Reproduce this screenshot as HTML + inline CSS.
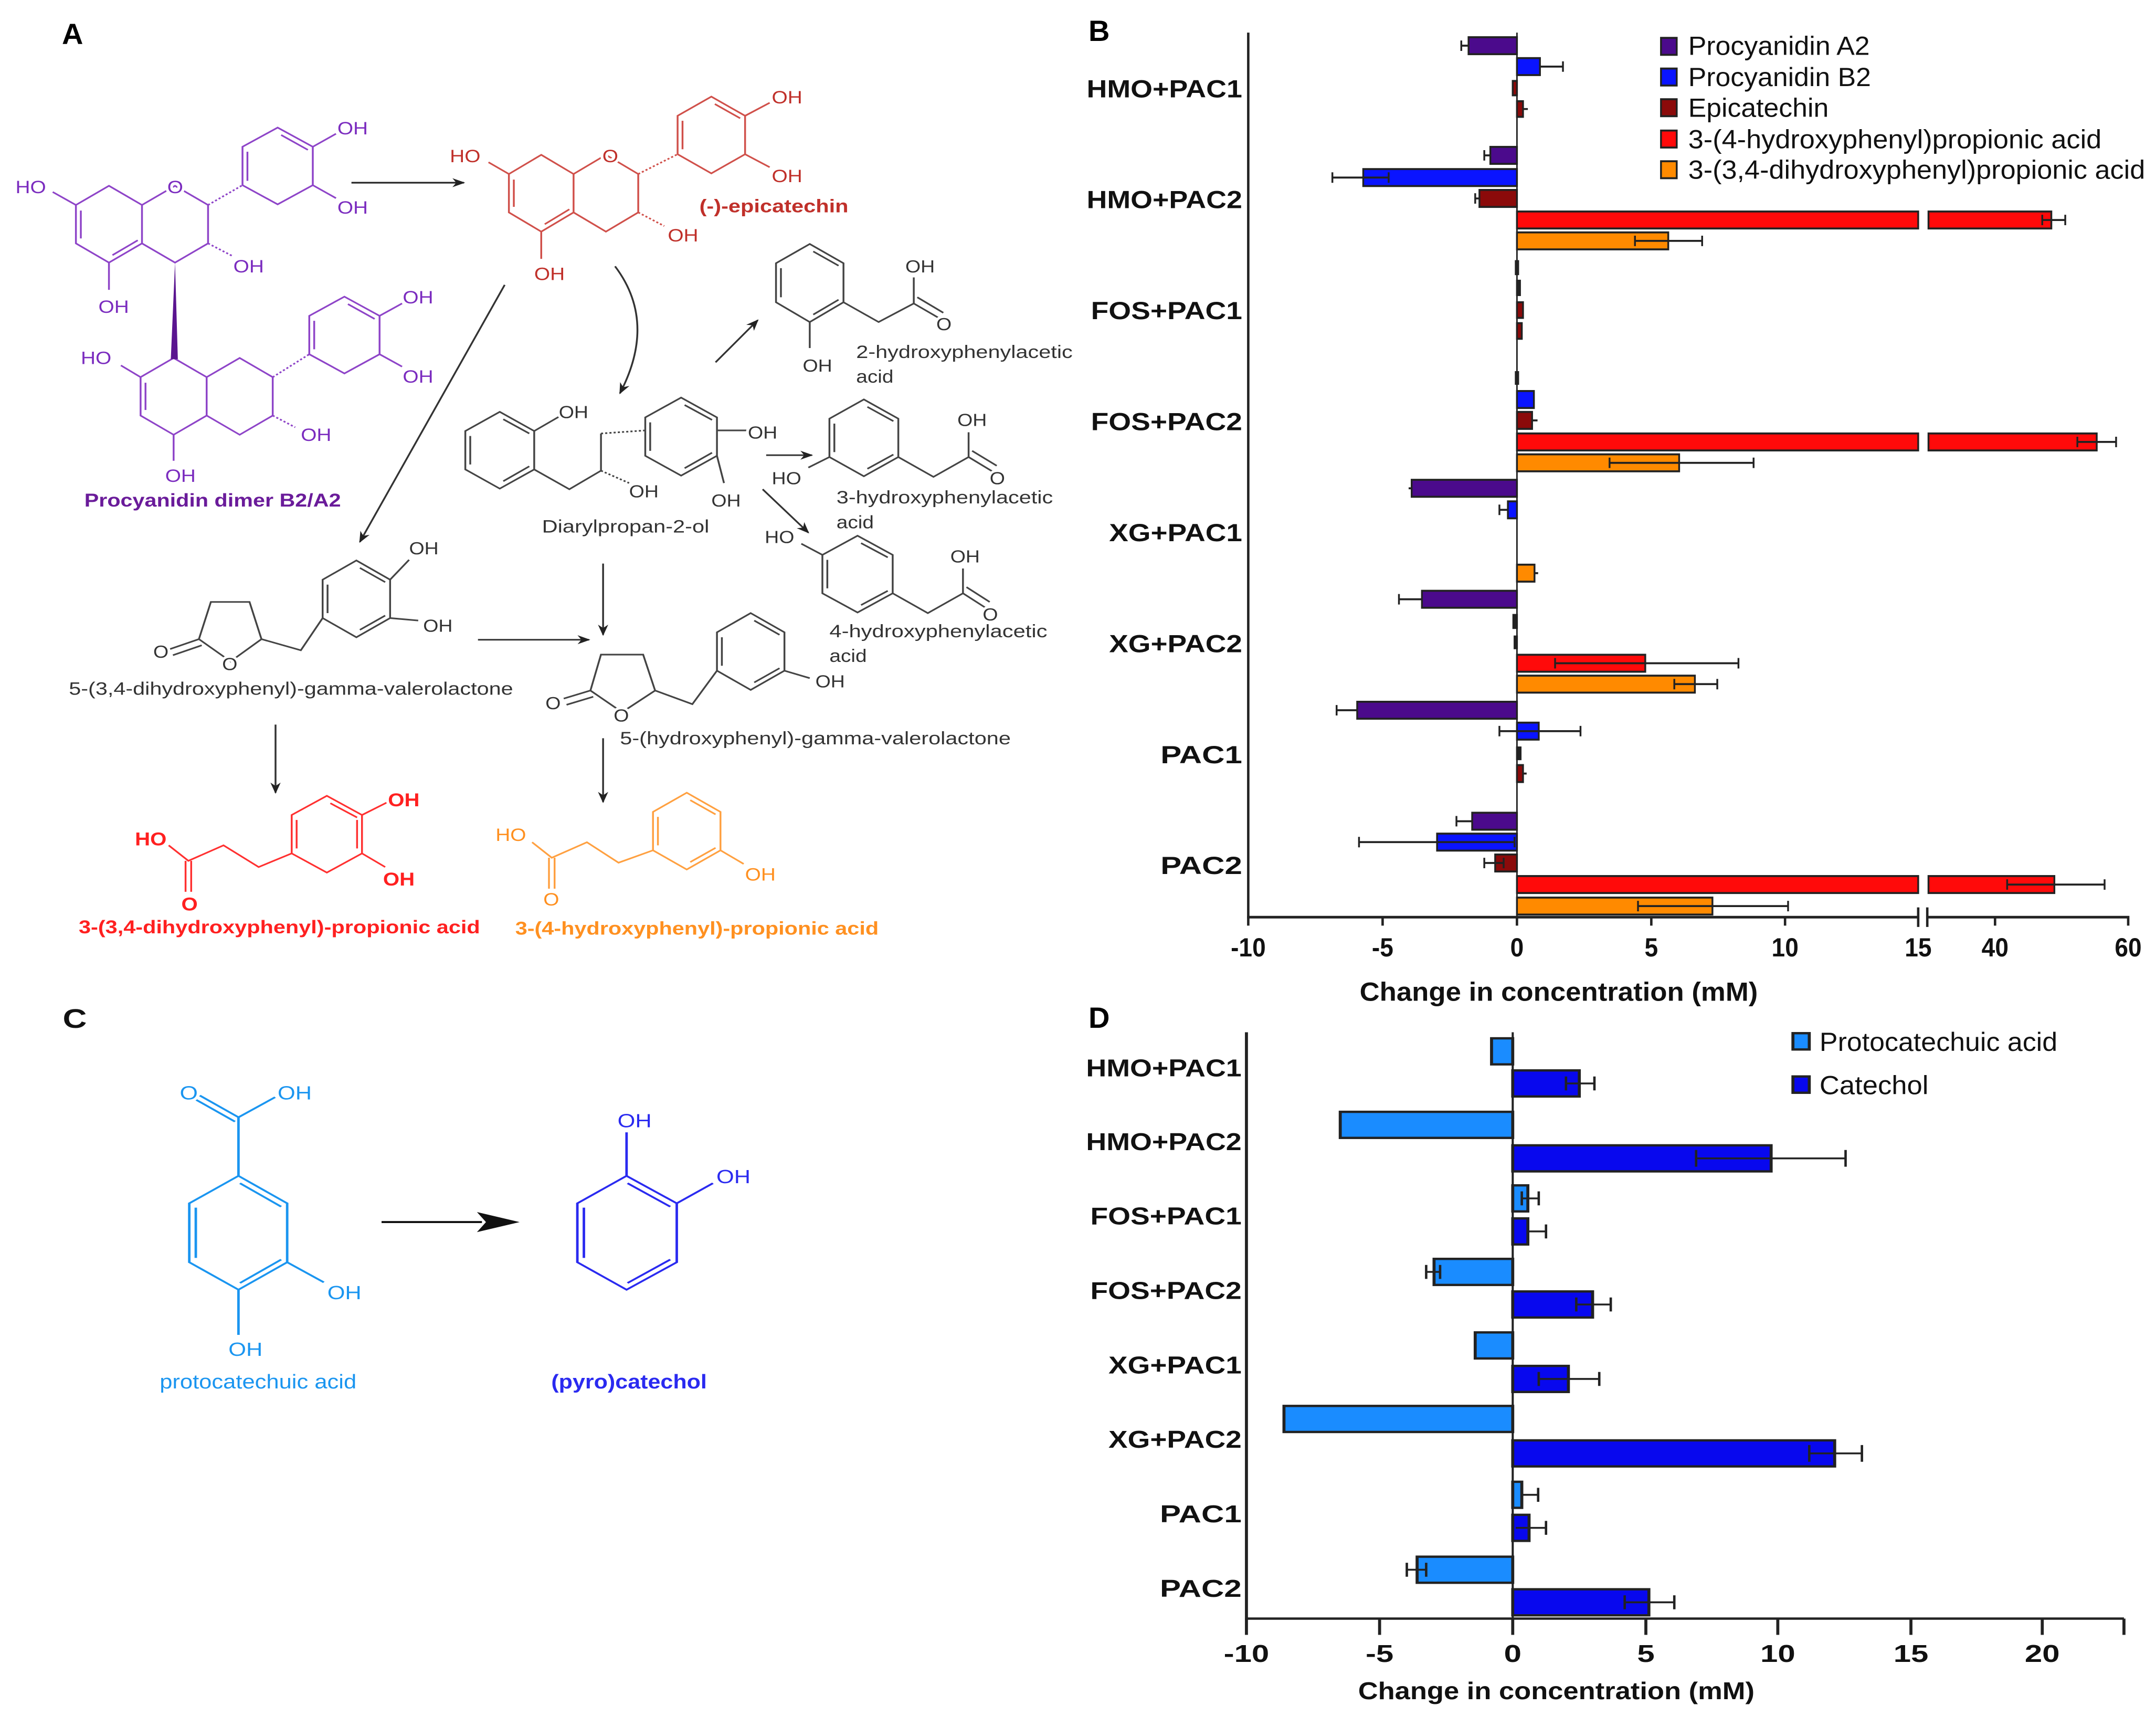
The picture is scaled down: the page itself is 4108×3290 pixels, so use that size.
<!DOCTYPE html>
<html><head><meta charset="utf-8"><style>
html,body{margin:0;padding:0;background:#fff}
svg{display:block}
text{font-family:"Liberation Sans",Arial,sans-serif}
.at{paint-order:stroke;stroke:#fff;stroke-width:8px;stroke-linejoin:round}
</style></head><body>
<svg xmlns="http://www.w3.org/2000/svg" width="4108" height="3290" viewBox="0 0 4108 3290">
<defs>
<marker id="ah" viewBox="0 0 10 10" refX="9" refY="5" markerWidth="7" markerHeight="7" orient="auto"><path d="M0,1 L10,5 L0,9 L3,5z" fill="#222"/></marker>
</defs>
<rect width="4108" height="3290" fill="#fff"/>
<text x="118" y="84" font-size="56" font-weight="bold">A</text>
<text x="2074" y="78" font-size="56" font-weight="bold">B</text>
<text x="2074" y="1958" font-size="56" font-weight="bold">D</text>

<!-- PANEL A (zoom2 coords) -->
<g transform="scale(1.3393,1.1798)" fill="none" stroke-width="2.6">
<g stroke="#8e44c8">
<polygon points="155,300 202,331 202,393 155,424 108,393 108,331"/>
<polyline points="202,331 249,300 296,331 296,393 249,424 202,393"/>
<polygon points="395,206 445,237 445,299 395,330 345,299 345,237"/>
<line x1="115" y1="340" x2="115" y2="385"/><line x1="160" y1="412" x2="196" y2="388"/><line x1="352" y1="245" x2="352" y2="292"/><line x1="400" y1="218" x2="438" y2="242"/>
<line x1="108" y1="331" x2="75" y2="310"/><line x1="155" y1="424" x2="155" y2="468"/>
<line x1="296" y1="331" x2="345" y2="299" stroke-dasharray="3 3"/><line x1="296" y1="393" x2="330" y2="413" stroke-dasharray="3 3"/>
<line x1="445" y1="237" x2="478" y2="216"/><line x1="445" y1="299" x2="478" y2="320"/>
<polygon points="247,578 294,609 294,671 247,702 200,671 200,609"/>
<polyline points="294,609 341,578 388,609 388,671 341,702 294,671"/>
<polygon points="490,479 540,510 540,572 490,603 440,572 440,510"/>
<line x1="207" y1="618" x2="207" y2="662"/><line x1="447" y1="518" x2="447" y2="564"/><line x1="495" y1="491" x2="533" y2="515"/>
<line x1="200" y1="609" x2="172" y2="590"/><line x1="247" y1="702" x2="247" y2="744"/>
<line x1="388" y1="609" x2="440" y2="572" stroke-dasharray="3 3"/><line x1="388" y1="671" x2="420" y2="690" stroke-dasharray="3 3"/>
<line x1="540" y1="510" x2="572" y2="490"/><line x1="540" y1="572" x2="572" y2="592"/>
</g>
<polygon points="249,424 243,580 253,580" fill="#5b1590"/>
<g fill="#7b2cbf" font-size="29" class="at">
<text x="22" y="312">HO</text><text x="238" y="312">O</text><text x="480" y="217">OH</text><text x="480" y="345">OH</text><text x="332" y="440">OH</text><text x="140" y="505">OH</text>
<text x="115" y="588">HO</text><text x="573" y="490">OH</text><text x="573" y="618">OH</text><text x="428" y="712">OH</text><text x="235" y="778">OH</text>
</g>
<text x="120" y="818" font-size="30" font-weight="bold" fill="#6a1b9a" textLength="365" lengthAdjust="spacingAndGlyphs">Procyanidin dimer B2/A2</text>
<line x1="500" y1="295" x2="660" y2="295" stroke="#222" marker-end="url(#ah)"/>
<g stroke="#d0504a">
<polygon points="770,250 816,281 816,343 770,374 724,343 724,281"/>
<polyline points="816,281 862,250 908,281 908,343 862,374 816,343"/>
<polygon points="1012,156 1060,187 1060,249 1012,280 964,249 964,187"/>
<line x1="731" y1="290" x2="731" y2="334"/><line x1="775" y1="362" x2="810" y2="338"/><line x1="971" y1="195" x2="971" y2="241"/><line x1="1017" y1="168" x2="1053" y2="191"/>
<line x1="724" y1="281" x2="695" y2="262"/><line x1="770" y1="374" x2="770" y2="418"/>
<line x1="908" y1="281" x2="964" y2="249" stroke-dasharray="3 3"/><line x1="908" y1="343" x2="945" y2="365" stroke-dasharray="3 3"/>
<line x1="1060" y1="187" x2="1095" y2="166"/><line x1="1060" y1="249" x2="1095" y2="270"/>
</g>
<g fill="#c0302a" font-size="29" class="at">
<text x="640" y="262">HO</text><text x="857" y="262">O</text><text x="1098" y="167">OH</text><text x="1098" y="294">OH</text><text x="950" y="390">OH</text><text x="760" y="452">OH</text>
</g>
<text x="995" y="343" font-size="30" font-weight="bold" fill="#c0302a" textLength="212" lengthAdjust="spacingAndGlyphs">(-)-epicatechin</text>
<g stroke="#333" marker-end="url(#ah)">
<path d="M875,430 Q935,520 882,635"/>
<line x1="718" y1="460" x2="512" y2="875"/>
<line x1="1018" y1="585" x2="1078" y2="517"/>
<line x1="1090" y1="735" x2="1155" y2="735"/>
<line x1="1085" y1="790" x2="1150" y2="860"/>
<line x1="858" y1="910" x2="858" y2="1025"/>
<line x1="680" y1="1033" x2="838" y2="1033"/>
<line x1="392" y1="1170" x2="392" y2="1280"/>
<line x1="858" y1="1192" x2="858" y2="1295"/>
</g>
<g stroke="#444">
<polygon points="711,665 760,696 760,758 711,789 662,758 662,696"/>
<line x1="669" y1="704" x2="669" y2="750"/><line x1="716" y1="777" x2="753" y2="753"/><line x1="716" y1="677" x2="753" y2="700"/>
<line x1="760" y1="696" x2="795" y2="673"/>
<polyline points="760,758 810,790 855,760 855,700"/>
<line x1="855" y1="700" x2="918" y2="695" stroke-dasharray="3 3"/><line x1="855" y1="760" x2="895" y2="780" stroke-dasharray="3 3"/>
<polygon points="969,642 1020,674 1020,736 969,768 918,736 918,674"/>
<line x1="925" y1="682" x2="925" y2="728"/><line x1="974" y1="654" x2="1013" y2="678"/><line x1="974" y1="756" x2="1013" y2="731"/>
<line x1="1020" y1="695" x2="1062" y2="695"/><line x1="1020" y1="736" x2="1030" y2="780"/>
<polygon points="1152,394 1200,425 1200,488 1152,520 1104,488 1104,425"/>
<line x1="1111" y1="433" x2="1111" y2="480"/><line x1="1157" y1="406" x2="1193" y2="429"/><line x1="1157" y1="508" x2="1193" y2="484"/>
<line x1="1152" y1="520" x2="1152" y2="562"/><polyline points="1200,488 1250,520 1300,490 1300,448"/>
<line x1="1300" y1="490" x2="1338" y2="515"/><line x1="1305" y1="480" x2="1342" y2="505"/>
<polygon points="1229,645 1278,676 1278,738 1229,769 1180,738 1180,676"/>
<line x1="1187" y1="684" x2="1187" y2="730"/><line x1="1234" y1="657" x2="1271" y2="680"/><line x1="1234" y1="757" x2="1271" y2="734"/>
<line x1="1180" y1="738" x2="1150" y2="755"/><polyline points="1278,738 1328,770 1378,738 1378,698"/>
<line x1="1378" y1="738" x2="1413" y2="762"/><line x1="1383" y1="728" x2="1418" y2="752"/>
<polygon points="1220,865 1270,896 1270,958 1220,989 1170,958 1170,896"/>
<line x1="1177" y1="904" x2="1177" y2="950"/><line x1="1225" y1="877" x2="1263" y2="900"/><line x1="1225" y1="977" x2="1263" y2="954"/>
<line x1="1170" y1="896" x2="1140" y2="878"/><polyline points="1270,958 1320,990 1370,958 1370,918"/>
<line x1="1370" y1="958" x2="1403" y2="982"/><line x1="1375" y1="948" x2="1408" y2="972"/>
<polyline points="283,1032 300,972 355,972 372,1032 328,1068 283,1032"/>
<line x1="283" y1="1032" x2="242" y2="1048"/><line x1="287" y1="1042" x2="246" y2="1058"/>
<polyline points="372,1032 428,1050 459,998"/>
<polygon points="507,905 555,936 555,998 507,1029 459,998 459,936"/>
<line x1="466" y1="944" x2="466" y2="990"/><line x1="512" y1="917" x2="548" y2="940"/><line x1="512" y1="1017" x2="548" y2="994"/>
<line x1="555" y1="936" x2="582" y2="904"/><line x1="555" y1="998" x2="595" y2="1002"/>
<polyline points="840,1115 855,1057 915,1057 932,1115 885,1150 840,1115"/>
<line x1="840" y1="1115" x2="802" y2="1128"/><line x1="844" y1="1125" x2="806" y2="1138"/>
<polyline points="932,1115 985,1137 1020,1083"/>
<polygon points="1068,990 1116,1021 1116,1083 1068,1114 1020,1083 1020,1021"/>
<line x1="1027" y1="1029" x2="1027" y2="1075"/><line x1="1073" y1="1002" x2="1109" y2="1025"/><line x1="1073" y1="1102" x2="1109" y2="1079"/>
<line x1="1116" y1="1083" x2="1152" y2="1095"/>
</g>
<g fill="#333" font-size="28" class="at">
<text x="795" y="675">OH</text><text x="895" y="803">OH</text><text x="1064" y="708">OH</text><text x="1012" y="818">OH</text>
<text x="1142" y="600">OH</text><text x="1288" y="440">OH</text><text x="1332" y="533">O</text>
<text x="1098" y="782">HO</text><text x="1362" y="688">OH</text><text x="1408" y="782">O</text>
<text x="1088" y="877">HO</text><text x="1352" y="908">OH</text><text x="1398" y="1002">O</text>
<text x="218" y="1062">O</text><text x="316" y="1082">O</text><text x="582" y="895">OH</text><text x="602" y="1020">OH</text>
<text x="776" y="1145">O</text><text x="873" y="1165">O</text><text x="1160" y="1110">OH</text>
</g>
<g fill="#333" font-size="29">
<text x="890" y="860" text-anchor="middle" textLength="238" lengthAdjust="spacingAndGlyphs">Diarylpropan-2-ol</text>
<text x="1218" y="578" textLength="308" lengthAdjust="spacingAndGlyphs">2-hydroxyphenylacetic</text><text x="1218" y="618">acid</text>
<text x="1190" y="813" textLength="308" lengthAdjust="spacingAndGlyphs">3-hydroxyphenylacetic</text><text x="1190" y="853">acid</text>
<text x="1180" y="1029" textLength="310" lengthAdjust="spacingAndGlyphs">4-hydroxyphenylacetic</text><text x="1180" y="1069">acid</text>
<text x="98" y="1122" textLength="632" lengthAdjust="spacingAndGlyphs">5-(3,4-dihydroxyphenyl)-gamma-valerolactone</text>
<text x="882" y="1202" textLength="556" lengthAdjust="spacingAndGlyphs">5-(hydroxyphenyl)-gamma-valerolactone</text>
</g>
<g stroke="#ff3030">
<polygon points="465,1285 515,1316 515,1378 465,1409 415,1378 415,1316"/>
<line x1="422" y1="1324" x2="422" y2="1370"/><line x1="470" y1="1297" x2="508" y2="1320"/><line x1="508" y1="1324" x2="508" y2="1370"/>
<polyline points="240,1365 268,1390 318,1365 368,1400 415,1378"/>
<line x1="264" y1="1390" x2="264" y2="1440"/><line x1="272" y1="1390" x2="272" y2="1440"/>
<line x1="515" y1="1316" x2="550" y2="1296"/><line x1="515" y1="1378" x2="548" y2="1400"/>
</g>
<g fill="#ff2020" font-size="30" font-weight="bold" class="at">
<text x="192" y="1365">HO</text><text x="258" y="1470">O</text><text x="552" y="1302">OH</text><text x="545" y="1430">OH</text>
</g>
<text x="112" y="1507" font-size="30" font-weight="bold" fill="#ff2020" textLength="571" lengthAdjust="spacingAndGlyphs">3-(3,4-dihydroxyphenyl)-propionic acid</text>
<g stroke="#ffa040">
<polygon points="977,1280 1025,1311 1025,1373 977,1404 929,1373 929,1311"/>
<line x1="936" y1="1319" x2="936" y2="1365"/><line x1="982" y1="1292" x2="1018" y2="1315"/><line x1="982" y1="1392" x2="1018" y2="1369"/>
<polyline points="757,1360 785,1385 835,1360 880,1393 929,1373"/>
<line x1="781" y1="1385" x2="781" y2="1435"/><line x1="789" y1="1385" x2="789" y2="1435"/>
<line x1="1025" y1="1373" x2="1058" y2="1395"/>
</g>
<g fill="#ff9020" font-size="29" class="at">
<text x="705" y="1358">HO</text><text x="773" y="1462">O</text><text x="1060" y="1422">OH</text>
</g>
<text x="733" y="1509" font-size="30" font-weight="bold" fill="#ff9020" textLength="517" lengthAdjust="spacingAndGlyphs">3-(4-hydroxyphenyl)-propionic acid</text>
</g>

<!-- PANEL C (zoom4 coords) -->
<g transform="translate(0,1800) scale(0.9566,0.6378)" fill="none">
<text x="125" y="248" font-size="80" font-weight="bold" fill="#111" textLength="48" lengthAdjust="spacingAndGlyphs">C</text>
<g stroke="#1a95f0" stroke-width="5">
<polygon points="475,690 572,772 572,948 475,1030 377,948 377,772"/>
<line x1="390" y1="785" x2="390" y2="935"/><line x1="478" y1="712" x2="560" y2="782"/><line x1="478" y1="1010" x2="560" y2="940"/>
<line x1="475" y1="690" x2="475" y2="515"/><line x1="475" y1="515" x2="548" y2="455"/>
<line x1="475" y1="515" x2="398" y2="450"/><line x1="468" y1="528" x2="391" y2="463"/>
<line x1="475" y1="1030" x2="475" y2="1165"/><line x1="572" y1="948" x2="645" y2="1008"/>
</g>
<g fill="#1a95f0" font-size="56">
<text x="358" y="462" textLength="36" lengthAdjust="spacingAndGlyphs">O</text><text x="553" y="462" textLength="68" lengthAdjust="spacingAndGlyphs">OH</text><text x="652" y="1058" textLength="68" lengthAdjust="spacingAndGlyphs">OH</text><text x="455" y="1228" textLength="68" lengthAdjust="spacingAndGlyphs">OH</text>
<text x="318" y="1325" font-size="60" textLength="392" lengthAdjust="spacingAndGlyphs">protocatechuic acid</text>
</g>
<line x1="760" y1="828" x2="960" y2="828" stroke="#111" stroke-width="6"/>
<polygon points="950,798 1035,828 950,858 968,828" fill="#111"/>
<g stroke="#2a2af0" stroke-width="5">
<polygon points="1248,690 1348,772 1348,948 1248,1030 1150,948 1150,772"/>
<line x1="1163" y1="785" x2="1163" y2="935"/><line x1="1250" y1="712" x2="1335" y2="782"/><line x1="1250" y1="1010" x2="1335" y2="940"/>
<line x1="1248" y1="690" x2="1248" y2="560"/><line x1="1348" y1="772" x2="1420" y2="712"/>
</g>
<g fill="#2a2af0" font-size="56">
<text x="1230" y="545" textLength="68" lengthAdjust="spacingAndGlyphs">OH</text><text x="1427" y="712" textLength="68" lengthAdjust="spacingAndGlyphs">OH</text>
<text x="1098" y="1325" font-size="60" font-weight="bold" textLength="310" lengthAdjust="spacingAndGlyphs">(pyro)catechol</text>
</g>
</g>

<!-- PANEL B (zoom1 coords) -->
<g transform="translate(2300,0) scale(1.1531,1.2436)">
<g stroke="#222" stroke-width="3">
<rect x="432" y="57" width="80" height="26" fill="#4b0a8c"/><rect x="512" y="89" width="38" height="26" fill="#0a14ff"/>
<rect x="505" y="124" width="7" height="22" fill="#8b0a0a"/><rect x="512" y="155" width="10" height="24" fill="#8b0a0a"/>
<rect x="468" y="225" width="44" height="26" fill="#4b0a8c"/><rect x="258" y="259" width="254" height="26" fill="#0a14ff"/>
<rect x="450" y="291" width="62" height="26" fill="#8b0a0a"/>
<rect x="512" y="324" width="663" height="26" fill="#ff0a0a"/><rect x="1192" y="324" width="203" height="26" fill="#ff0a0a"/>
<rect x="512" y="356" width="250" height="26" fill="#ff8a00"/>
<rect x="510" y="400" width="4" height="20" fill="#222"/><rect x="512" y="430" width="5" height="22" fill="#222"/>
<rect x="512" y="463" width="10" height="24" fill="#8b0a0a"/><rect x="512" y="495" width="8" height="24" fill="#8b0a0a"/>
<rect x="510" y="570" width="4" height="18" fill="#222"/><rect x="512" y="599" width="28" height="26" fill="#0a14ff"/>
<rect x="512" y="631" width="25" height="26" fill="#8b0a0a"/>
<rect x="512" y="664" width="663" height="26" fill="#ff0a0a"/><rect x="1192" y="664" width="278" height="26" fill="#ff0a0a"/>
<rect x="512" y="696" width="268" height="26" fill="#ff8a00"/>
<rect x="338" y="735" width="174" height="26" fill="#4b0a8c"/><rect x="497" y="768" width="15" height="26" fill="#0a14ff"/>
<rect x="512" y="865" width="29" height="26" fill="#ff8a00"/>
<rect x="355" y="905" width="157" height="26" fill="#4b0a8c"/><rect x="506" y="942" width="6" height="20" fill="#222"/><rect x="508" y="975" width="4" height="18" fill="#222"/>
<rect x="512" y="1003" width="212" height="26" fill="#ff0a0a"/><rect x="512" y="1035" width="294" height="26" fill="#ff8a00"/>
<rect x="248" y="1075" width="264" height="26" fill="#4b0a8c"/><rect x="512" y="1107" width="36" height="26" fill="#0a14ff"/>
<rect x="512" y="1145" width="6" height="18" fill="#222"/><rect x="512" y="1172" width="10" height="26" fill="#8b0a0a"/>
<rect x="438" y="1245" width="74" height="26" fill="#4b0a8c"/><rect x="380" y="1277" width="132" height="26" fill="#0a14ff"/>
<rect x="476" y="1309" width="36" height="26" fill="#8b0a0a"/>
<rect x="512" y="1342" width="663" height="26" fill="#ff0a0a"/><rect x="1192" y="1342" width="208" height="26" fill="#ff0a0a"/>
<rect x="512" y="1375" width="323" height="26" fill="#ff8a00"/>
</g>
<g stroke="#222" stroke-width="3" fill="none">
<path d="M432,70H420M420,62V78 M550,102H588M588,94V110 M522,167H530
M468,238H458M458,230V246 M300,272H207M207,264V280M300,264V280 M450,304H443M443,296V312
M1380,337H1418M1418,329V345M1380,329V345 M707,369H818M818,361V377M707,361V377
M537,644H546 M1438,677H1502M1502,669V685M1438,669V685 M665,709H903M903,701V717M665,701V717
M338,748H333 M497,781H483M483,773V789 M541,878H547
M355,918H317M317,910V926 M575,1016H878M878,1008V1024M575,1008V1024 M772,1048H843M843,1040V1056M772,1040V1056
M248,1088H214M214,1080V1096 M483,1120H617M617,1112V1128M483,1112V1128 M522,1185H528
M438,1258H412M412,1250V1266 M508,1290H251M251,1282V1298M508,1282V1298 M490,1322H458M458,1314V1330M490,1314V1330
M1322,1355H1483M1483,1347V1363M1322,1347V1363 M712,1388H960M960,1380V1396M712,1380V1396"/>
</g>
<g stroke="#222" stroke-width="4" fill="none">
<line x1="68" y1="50" x2="68" y2="1407"/>
<line x1="512" y1="50" x2="512" y2="1405" stroke-width="2.5"/>
<path d="M66,1405H1175 M1190,1405H1524 M1175,1390V1420 M1190,1390V1420 M68,1405V1418 M290,1405V1418 M512,1405V1418 M734,1405V1418 M955,1405V1418 M1302,1405V1418 M1522,1405V1418"/>
</g>
<g font-size="40" font-weight="bold" fill="#111" text-anchor="middle">
<text x="68" y="1465">-10</text><text x="290" y="1465">-5</text><text x="512" y="1465">0</text><text x="734" y="1465">5</text><text x="955" y="1465">10</text><text x="1175" y="1465">15</text><text x="1302" y="1465">40</text><text x="1522" y="1465">60</text>
<text x="581" y="1533" textLength="658" lengthAdjust="spacingAndGlyphs">Change in concentration (mM)</text>
</g>
<g font-size="38" font-weight="bold" fill="#111" text-anchor="end">
<text x="58" y="149" textLength="257" lengthAdjust="spacingAndGlyphs">HMO+PAC1</text>
<text x="58" y="319" textLength="257" lengthAdjust="spacingAndGlyphs">HMO+PAC2</text>
<text x="58" y="489" textLength="250" lengthAdjust="spacingAndGlyphs">FOS+PAC1</text>
<text x="58" y="659" textLength="250" lengthAdjust="spacingAndGlyphs">FOS+PAC2</text>
<text x="58" y="829" textLength="220" lengthAdjust="spacingAndGlyphs">XG+PAC1</text>
<text x="58" y="999" textLength="220" lengthAdjust="spacingAndGlyphs">XG+PAC2</text>
<text x="58" y="1169" textLength="135" lengthAdjust="spacingAndGlyphs">PAC1</text>
<text x="58" y="1339" textLength="135" lengthAdjust="spacingAndGlyphs">PAC2</text>
</g>
<g stroke="#222" stroke-width="3">
<rect x="750" y="58" width="26" height="26" fill="#4b0a8c"/><rect x="750" y="105" width="26" height="26" fill="#0a14ff"/>
<rect x="750" y="152" width="26" height="26" fill="#8b0a0a"/><rect x="750" y="200" width="26" height="26" fill="#ff0a0a"/><rect x="750" y="247" width="26" height="26" fill="#ff8a00"/>
</g>
<g font-size="40" fill="#111">
<text x="795" y="84" textLength="300" lengthAdjust="spacingAndGlyphs">Procyanidin A2</text>
<text x="795" y="132" textLength="302" lengthAdjust="spacingAndGlyphs">Procyanidin B2</text>
<text x="795" y="179" textLength="232" lengthAdjust="spacingAndGlyphs">Epicatechin</text>
<text x="795" y="227" textLength="683" lengthAdjust="spacingAndGlyphs">3-(4-hydroxyphenyl)propionic acid</text>
<text x="795" y="274" textLength="755" lengthAdjust="spacingAndGlyphs">3-(3,4-dihydroxyphenyl)propionic acid</text>
</g>
</g>

<!-- PANEL D (zoom3 coords) -->
<g transform="translate(2300,1900) scale(1.1531,0.8865)">
<g stroke="#222" stroke-width="5">
<rect x="470" y="88" width="35" height="56" fill="#1a8cff"/><rect x="505" y="157" width="110" height="56" fill="#0808ee"/>
<rect x="220" y="246" width="285" height="56" fill="#1a8cff"/><rect x="505" y="318" width="427" height="56" fill="#0808ee"/>
<rect x="505" y="404" width="25" height="56" fill="#1a8cff"/><rect x="505" y="475" width="25" height="56" fill="#0808ee"/>
<rect x="375" y="562" width="130" height="56" fill="#1a8cff"/><rect x="505" y="632" width="132" height="56" fill="#0808ee"/>
<rect x="443" y="720" width="62" height="56" fill="#1a8cff"/><rect x="505" y="792" width="92" height="56" fill="#0808ee"/>
<rect x="127" y="878" width="378" height="56" fill="#1a8cff"/><rect x="505" y="952" width="532" height="56" fill="#0808ee"/>
<rect x="505" y="1041" width="15" height="56" fill="#1a8cff"/><rect x="505" y="1112" width="27" height="56" fill="#0808ee"/>
<rect x="347" y="1202" width="158" height="56" fill="#1a8cff"/><rect x="505" y="1272" width="225" height="56" fill="#0808ee"/>
</g>
<g stroke="#222" stroke-width="4" fill="none">
<path d="M593,185H640M640,170V200M593,170V200 M808,346H1055M1055,328V364M808,328V364
M520,432H548M548,417V447M520,417V447 M530,503H560M560,488V518
M362,590H385M362,575V605M385,575V605 M610,660H667M667,645V675M610,645V675
M548,820H648M648,805V835M548,805V835 M995,980H1082M1082,962V998M995,962V998
M520,1069H547M547,1054V1084 M510,1140H560M560,1125V1155 M330,1230H362M330,1215V1245M362,1215V1245 M690,1300H772M772,1285V1315M690,1285V1315"/>
</g>
<g stroke="#222" stroke-width="5" fill="none">
<line x1="65" y1="75" x2="65" y2="1337"/>
<line x1="505" y1="75" x2="505" y2="1335" stroke-width="3.5"/>
<path d="M63,1335H1515 M65,1335V1370 M285,1335V1370 M505,1335V1370 M725,1335V1370 M943,1335V1370 M1163,1335V1370 M1380,1335V1370 M1515,1335V1370"/>
</g>
<g font-size="52" font-weight="bold" fill="#111" text-anchor="middle">
<text x="65" y="1428">-10</text><text x="285" y="1428">-5</text><text x="505" y="1428">0</text><text x="725" y="1428">5</text><text x="943" y="1428">10</text><text x="1163" y="1428">15</text><text x="1380" y="1428">20</text>
<text x="577" y="1508" textLength="655" lengthAdjust="spacingAndGlyphs">Change in concentration (mM)</text>
</g>
<g font-size="52" font-weight="bold" fill="#111" text-anchor="end">
<text x="57" y="170" textLength="257" lengthAdjust="spacingAndGlyphs">HMO+PAC1</text>
<text x="57" y="328" textLength="257" lengthAdjust="spacingAndGlyphs">HMO+PAC2</text>
<text x="57" y="488" textLength="250" lengthAdjust="spacingAndGlyphs">FOS+PAC1</text>
<text x="57" y="648" textLength="250" lengthAdjust="spacingAndGlyphs">FOS+PAC2</text>
<text x="57" y="808" textLength="220" lengthAdjust="spacingAndGlyphs">XG+PAC1</text>
<text x="57" y="968" textLength="220" lengthAdjust="spacingAndGlyphs">XG+PAC2</text>
<text x="57" y="1128" textLength="135" lengthAdjust="spacingAndGlyphs">PAC1</text>
<text x="57" y="1288" textLength="135" lengthAdjust="spacingAndGlyphs">PAC2</text>
</g>
<g stroke="#222" stroke-width="5">
<rect x="968" y="77" width="27" height="35" fill="#1a8cff"/><rect x="968" y="170" width="27" height="35" fill="#0808ee"/>
</g>
<g font-size="56" fill="#111">
<text x="1012" y="115" textLength="393" lengthAdjust="spacingAndGlyphs">Protocatechuic acid</text>
<text x="1012" y="208" textLength="180" lengthAdjust="spacingAndGlyphs">Catechol</text>
</g>
</g>
</svg>
</body></html>
